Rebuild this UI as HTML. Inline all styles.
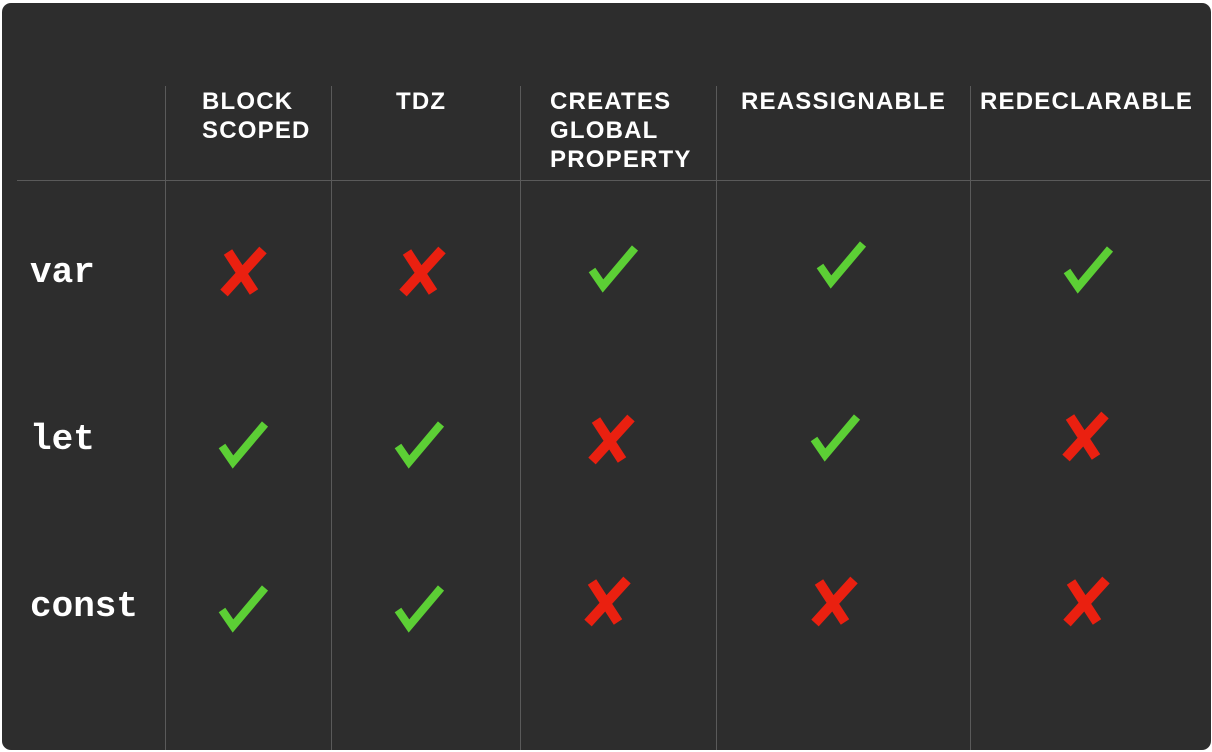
<!DOCTYPE html>
<html><head><meta charset="utf-8"><style>
html,body{margin:0;padding:0;background:#fff;width:1212px;height:752px;overflow:hidden}
.card{position:absolute;left:2px;top:3px;width:1209px;height:747px;background:#2d2d2d;border-radius:9px}
.v{position:absolute;top:86px;height:664px;width:1px;background:#5a5a5a}
.h{position:absolute;left:17px;top:180px;width:1193px;height:1px;background:#5a5a5a}
.hd{position:absolute;color:#fff;font-family:"Liberation Sans",sans-serif;font-weight:bold;font-size:24px;line-height:29px;letter-spacing:1.2px;top:87px}
.rl{position:absolute;left:30px;color:#fff;font-family:"Liberation Mono","DejaVu Sans Mono",monospace;font-weight:bold;font-size:36px;line-height:40px}
svg{position:absolute;left:0;top:0}
</style></head><body>
<div class="card"></div>
<div class="v" style="left:165px"></div>
<div class="v" style="left:331px"></div>
<div class="v" style="left:520px"></div>
<div class="v" style="left:716px"></div>
<div class="v" style="left:970px"></div>
<div class="h"></div>
<div class="hd" style="left:202px">BLOCK<br>SCOPED</div>
<div class="hd" style="left:396px">TDZ</div>
<div class="hd" style="left:550px">CREATES<br>GLOBAL<br>PROPERTY</div>
<div class="hd" style="left:741px">REASSIGNABLE</div>
<div class="hd" style="left:980px">REDECLARABLE</div>
<div class="rl" style="top:253px">var</div>
<div class="rl" style="top:420px">let</div>
<div class="rl" style="top:587px">const</div>
<svg width="1212" height="752">
<defs>
<g id="ck"><polyline points="-21,4 -10,20 22,-18" fill="none" stroke="#5ccf35" stroke-width="8" stroke-linejoin="miter"/></g>
<g id="cx" stroke="#ea2010" stroke-width="10" stroke-linecap="butt"><line x1="-15" y1="-20" x2="11" y2="20"/><line x1="20" y1="-22" x2="-19" y2="21"/></g>
</defs>
<use href="#cx" x="243" y="272"/><use href="#cx" x="422" y="272"/>
<use href="#ck" x="613" y="266"/><use href="#ck" x="841" y="262"/><use href="#ck" x="1088" y="267"/>
<use href="#ck" x="243" y="442"/><use href="#ck" x="419" y="442"/>
<use href="#cx" x="611" y="440"/><use href="#ck" x="835" y="435"/><use href="#cx" x="1085" y="437"/>
<use href="#ck" x="243" y="606"/><use href="#ck" x="419" y="606"/>
<use href="#cx" x="607" y="602"/><use href="#cx" x="834" y="602"/><use href="#cx" x="1086" y="602"/>
</svg>
</body></html>
